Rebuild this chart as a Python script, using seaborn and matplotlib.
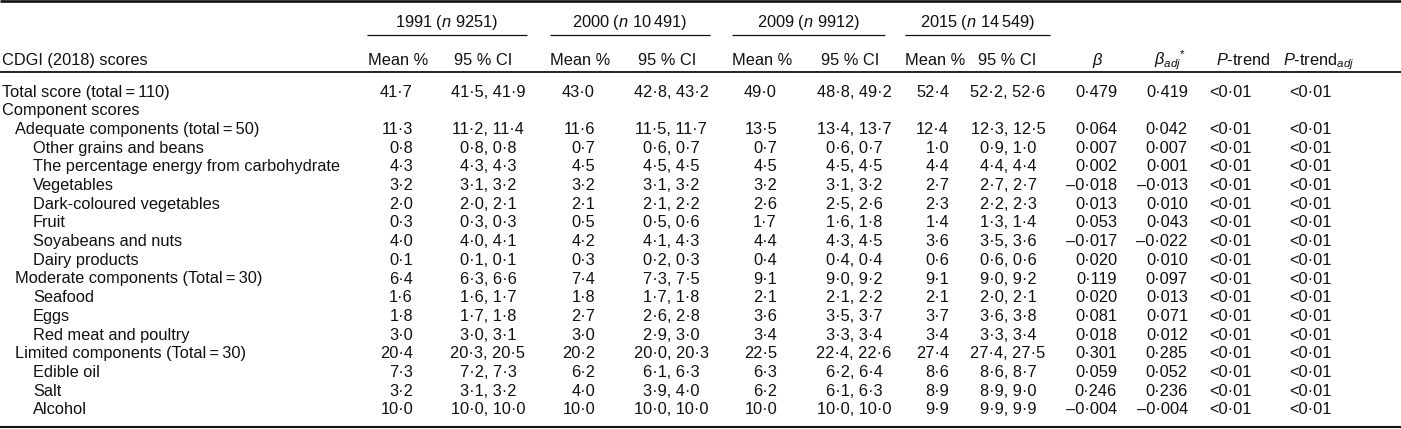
import matplotlib
matplotlib.use("Agg")
import matplotlib.pyplot as plt
import seaborn as sns

# ---------------- data ----------------
row_labels = [
    "Total score (total\u2009=\u2009110)",
    "Component scores",
    "Adequate components (total\u2009=\u200950)",
    "Other grains and beans",
    "The percentage energy from carbohydrate",
    "Vegetables",
    "Dark-coloured vegetables",
    "Fruit",
    "Soyabeans and nuts",
    "Dairy products",
    "Moderate components (Total\u2009=\u200930)",
    "Seafood",
    "Eggs",
    "Red meat and poultry",
    "Limited components (Total\u2009=\u200930)",
    "Edible oil",
    "Salt",
    "Alcohol",
]
row_levels = [0, 0, 1, 2, 2, 2, 2, 2, 2, 2, 1, 2, 2, 2, 1, 2, 2, 2]

years = ["1991", "2000", "2009", "2015"]
year_n = ["9251", "10\u2009491", "9912", "14\u2009549"]

mean_1991 = [41.7, None, 11.3, 0.8, 4.3, 3.2, 2.0, 0.3, 4.0, 0.1, 6.4, 1.6, 1.8, 3.0, 20.4, 7.3, 3.2, 10.0]
lo_1991 = [41.5, None, 11.2, 0.8, 4.3, 3.1, 2.0, 0.3, 4.0, 0.1, 6.3, 1.6, 1.7, 3.0, 20.3, 7.2, 3.1, 10.0]
hi_1991 = [41.9, None, 11.4, 0.8, 4.3, 3.2, 2.1, 0.3, 4.1, 0.1, 6.6, 1.7, 1.8, 3.1, 20.5, 7.3, 3.2, 10.0]

mean_2000 = [43.0, None, 11.6, 0.7, 4.5, 3.2, 2.1, 0.5, 4.2, 0.3, 7.4, 1.8, 2.7, 3.0, 20.2, 6.2, 4.0, 10.0]
lo_2000 = [42.8, None, 11.5, 0.6, 4.5, 3.1, 2.1, 0.5, 4.1, 0.2, 7.3, 1.7, 2.6, 2.9, 20.0, 6.1, 3.9, 10.0]
hi_2000 = [43.2, None, 11.7, 0.7, 4.5, 3.2, 2.2, 0.6, 4.3, 0.3, 7.5, 1.8, 2.8, 3.0, 20.3, 6.3, 4.0, 10.0]

mean_2009 = [49.0, None, 13.5, 0.7, 4.5, 3.2, 2.6, 1.7, 4.4, 0.4, 9.1, 2.1, 3.6, 3.4, 22.5, 6.3, 6.2, 10.0]
lo_2009 = [48.8, None, 13.4, 0.6, 4.5, 3.1, 2.5, 1.6, 4.3, 0.4, 9.0, 2.1, 3.5, 3.3, 22.4, 6.2, 6.1, 10.0]
hi_2009 = [49.2, None, 13.7, 0.7, 4.5, 3.2, 2.6, 1.8, 4.5, 0.4, 9.2, 2.2, 3.7, 3.4, 22.6, 6.4, 6.3, 10.0]

mean_2015 = [52.4, None, 12.4, 1.0, 4.4, 2.7, 2.3, 1.4, 3.6, 0.6, 9.1, 2.1, 3.7, 3.4, 27.4, 8.6, 8.9, 9.9]
lo_2015 = [52.2, None, 12.3, 0.9, 4.4, 2.7, 2.2, 1.3, 3.5, 0.6, 9.0, 2.0, 3.6, 3.3, 27.4, 8.6, 8.9, 9.9]
hi_2015 = [52.6, None, 12.5, 1.0, 4.4, 2.7, 2.3, 1.4, 3.6, 0.6, 9.2, 2.1, 3.8, 3.4, 27.5, 8.7, 9.0, 9.9]

beta = [0.479, None, 0.064, 0.007, 0.002, -0.018, 0.013, 0.053, -0.017, 0.020, 0.119, 0.020, 0.081, 0.018, 0.301, 0.059, 0.246, -0.004]
beta_adj = [0.419, None, 0.042, 0.007, 0.001, -0.013, 0.010, 0.043, -0.022, 0.010, 0.097, 0.013, 0.071, 0.012, 0.285, 0.052, 0.236, -0.004]
p_trend = ["<0\u00b701"] + [None] + ["<0\u00b701"] * 16
p_trend_adj = ["<0\u00b701"] + [None] + ["<0\u00b701"] * 16

means = [mean_1991, mean_2000, mean_2009, mean_2015]
los = [lo_1991, lo_2000, lo_2009, lo_2015]
his = [hi_1991, hi_2000, hi_2009, hi_2015]

# ---------------- style ----------------
sns.set_theme(style="white")
FAM = ["Liberation Sans", "DejaVu Sans"]
plt.rcParams["font.family"] = FAM
plt.rcParams["mathtext.fontset"] = "custom"
plt.rcParams["mathtext.rm"] = "Liberation Sans"
plt.rcParams["mathtext.it"] = "Liberation Sans:italic"
plt.rcParams["mathtext.bf"] = "Liberation Sans:bold"
FS = 11.8
TXT = "#111111"


def fmt(v, nd=1):
    if v is None:
        return ""
    s = f"{abs(v):.{nd}f}".replace(".", "\u00b7")
    return ("\u2013" if v < 0 else "") + s


W, H = 1401, 429
fig = plt.figure(figsize=(W / 100, H / 100), dpi=100)
ax = fig.add_axes([0, 0, 1, 1])
ax.set_xlim(0, W)
ax.set_ylim(H, 0)
ax.axis("off")

# layout (pixels)
mean_right = [413, 595, 777, 949]
mean_head = [398, 580, 762, 935]
ci_center = [488, 671, 854, 1008]
ci_head = [483, 667, 850, 1007]
group_span = [(367, 527), (550, 710), (732, 885), (905, 1050)]
beta_right, beta_adj_right = 1117, 1188
beta_head, beta_adj_head = 1098, 1170
p_center, p_adj_center = 1230, 1310
p_head, p_adj_head = 1243, 1319
indent = [2, 15, 33]
y_group, y_head = 27, 65.3
y0, dy = 96.7, 18.68

# rules
ax.hlines(1.3, 0, W, color=TXT, lw=1.9)
ax.hlines(72.2, 0, W, color=TXT, lw=1.3)
ax.hlines(426.5, 0, W, color=TXT, lw=1.5)
for (a, b) in group_span:
    ax.hlines(34.8, a, b, color=TXT, lw=0.9)

kw = dict(fontsize=FS, color=TXT, va="baseline")

# headers
for i, (yr, n) in enumerate(zip(years, year_n)):
    a, b = group_span[i]
    ax.text((a + b) / 2, y_group, f"{yr} ($n$ {n})", ha="center", **kw)
    ax.text(mean_head[i], y_head, "Mean %", ha="center", **kw)
    ax.text(ci_head[i], y_head, "95 % CI", ha="center", **kw)
ax.text(indent[0], y_head, "CDGI (2018) scores", ha="left", **kw)
ax.text(beta_head, y_head, r"$\beta$", ha="center", **kw)
ax.text(beta_adj_head, y_head, r"$\beta_{adj}{}^{*}$", ha="center", **kw)
ax.text(p_head, y_head, r"$P$-trend", ha="center", **kw)
ax.text(p_adj_head, y_head, r"$P$-trend$_{adj}$", ha="center", **kw)

# body
for r, (lab, lev) in enumerate(zip(row_labels, row_levels)):
    y = y0 + r * dy
    ax.text(indent[lev], y, lab, ha="left", **kw)
    for g in range(4):
        m = means[g][r]
        if m is None:
            continue
        ax.text(mean_right[g], y, fmt(m), ha="right", **kw)
        ax.text(ci_center[g], y, f"{fmt(los[g][r])}, {fmt(his[g][r])}", ha="center", **kw)
    if beta[r] is not None:
        ax.text(beta_right, y, fmt(beta[r], 3), ha="right", **kw)
        ax.text(beta_adj_right, y, fmt(beta_adj[r], 3), ha="right", **kw)
    if p_trend[r] is not None:
        ax.text(p_center, y, p_trend[r], ha="center", **kw)
        ax.text(p_adj_center, y, p_trend_adj[r], ha="center", **kw)

fig.savefig("out.png", dpi=100, facecolor="white")
